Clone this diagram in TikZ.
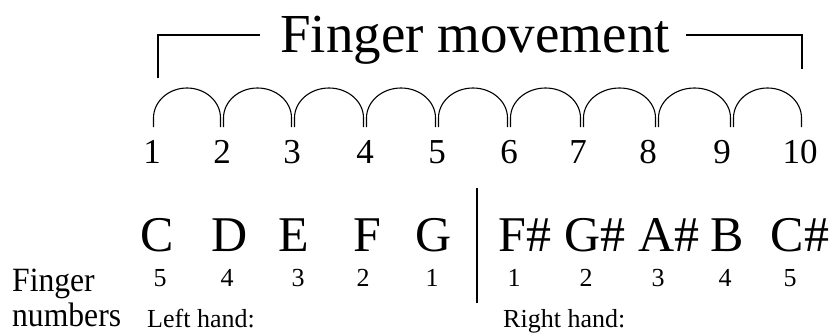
\documentclass[tikz,border=0pt]{standalone}
\usepackage{fontspec}
\setmainfont{Liberation Serif}
\begin{document}
\begin{tikzpicture}[x=1pt,y=-1pt,
  title/.style={anchor=base,inner sep=0pt,font=\fontsize{55}{60}\selectfont},
  posnum/.style={anchor=base,inner sep=0pt,font=\fontsize{35}{40}\selectfont},
  note/.style={anchor=base,inner sep=0pt,font=\fontsize{50}{56}\selectfont},
  fing/.style={anchor=base,inner sep=0pt,font=\fontsize{26}{30}\selectfont},
  side/.style={anchor=base west,inner sep=0pt,font=\fontsize{34}{38}\selectfont,xscale=0.93},
  hand/.style={anchor=base west,inner sep=0pt,font=\fontsize{26}{30}\selectfont},
  bracket/.style={line width=1.5pt},
  archline/.style={line width=1.1pt},
  divider/.style={line width=1.4pt}]
\useasboundingbox (0,0) rectangle (834,334);
% title and bracket
\node[title] (t) at (475,53) {Finger movement};
\coordinate (bl) at (158,78);
\coordinate (br) at (802,69);
\draw[bracket] (bl) |- ([xshift=-20pt]t.west |- 0,35);
\draw[bracket] (br) |- ([xshift=16pt]t.east |- 0,35);
% arches
\foreach \a/\b [count=\i] in {152/222,222/293,293/365,365/437,437/509,509/582,582/657,657/732,732/803}{
  \pgfmathsetmacro{\rx}{(\b-\a-3)/2}
  \coordinate (f\i) at (\a+1.5,127);
  \draw[archline] (f\i) -- ++(0,-9) arc[start angle=180,end angle=0,x radius=\rx pt,y radius=30pt] -- ++(0,9);
}
% positions
\foreach \x/\n in {152/1,222/2,292/3,365/4,437/5,509/6,578/7,648/8,722/9,800/10}
  \node[posnum] (p\n) at (\x,163) {\n};
% notes
\foreach \x/\t [count=\i] in {157/C,230/D,294/E,367/F,434/G}
  \node[note] (n\i) at (\x,251) {\t};
\foreach \x/\f [count=\i] in {160/5,227/4,298/3,363/2,432/1}
  \node[fing] (l\i) at (\x,286) {\f};
\foreach \x/\t [count=\i] in {525/F\#,595/G\#,669/A\#,727/B,800/C\#}
  \node[note] (m\i) at (\x,251) {\t};
\foreach \x/\f [count=\i] in {514/1,586/2,658/3,725/4,790/5}
  \node[fing] (r\i) at (\x,286) {\f};
% divider
\coordinate (d1) at (477,188);
\coordinate (d2) at (477,303);
\draw[divider] (d1) -- (d2);
% labels
\node[side] (fa) at (12,291) {Finger};
\node[side] (fb) at (12,326) {numbers};
\node[hand] (lh) at (147,327) {Left hand:};
\node[hand] (rh) at (503,327) {Right hand:};
\end{tikzpicture}
\end{document}
